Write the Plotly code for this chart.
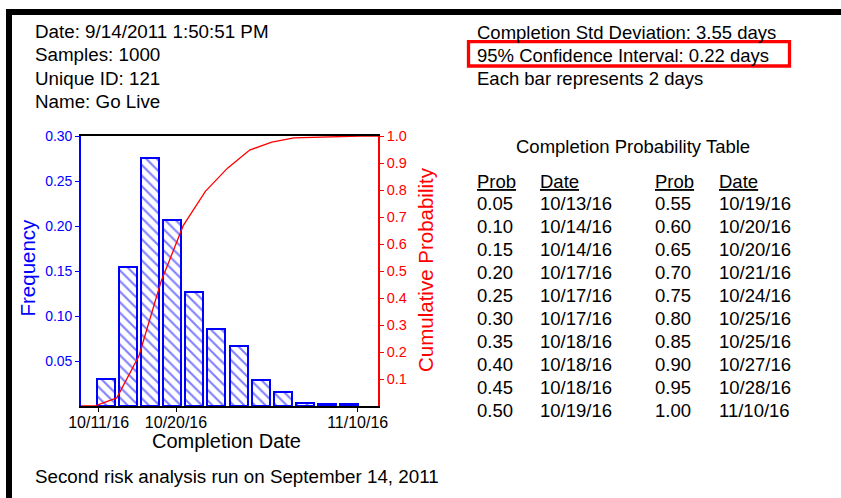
import plotly.graph_objects as go
import numpy as np

# ---- data -------------------------------------------------------------
# relative frequency of each 2-day completion bin
frequency = [0.030, 0.155, 0.276, 0.207, 0.127, 0.086, 0.067, 0.029, 0.016, 0.003, 0.002, 0.002]

date_tick_labels = ["10/11/16", "10/20/16", "11/10/16"]

header_lines = ["Date: 9/14/2011 1:50:51 PM", "Samples: 1000", "Unique ID: 121", "Name: Go Live"]
stats_lines = ["Completion Std Deviation: 3.55 days", "95% Confidence Interval: 0.22 days",
               "Each bar represents 2 days"]
footer_text = "Second risk analysis run on September 14, 2011"

table_title = "Completion Probability Table"
table_probs = ["0.05", "0.10", "0.15", "0.20", "0.25", "0.30", "0.35", "0.40", "0.45", "0.50",
               "0.55", "0.60", "0.65", "0.70", "0.75", "0.80", "0.85", "0.90", "0.95", "1.00"]
table_dates = ["10/13/16", "10/14/16", "10/14/16", "10/17/16", "10/17/16", "10/17/16", "10/18/16",
               "10/18/16", "10/18/16", "10/19/16", "10/19/16", "10/20/16", "10/20/16", "10/21/16",
               "10/24/16", "10/25/16", "10/25/16", "10/27/16", "10/28/16", "11/10/16"]

# ---- layout constants --------------------------------------------------
W, H = 841, 498
PL, PR, PT, PB = 81, 378, 136, 406          # plot area in pixels
BLUE, RED = "#0000ff", "#ff0000"
FONT = "Arial, Liberation Sans, sans-serif"

XMIN, XMAX = -1.115, 12.294                  # bin-index axis range
tick_pos = [-0.316, 3.174, 11.377]           # where the date labels sit on the bin axis


def px(x):
    return (x - PL) / (PR - PL)


def py(y):
    return (PB - y) / (PB - PT)


n = len(frequency)
bin_idx = np.arange(n)
cum = np.concatenate([[0.0], np.cumsum(frequency)])
line_x = np.concatenate([[XMIN], bin_idx - 0.5, [n - 0.5, XMAX]])
line_y = np.concatenate([[0.0], cum, [cum[-1]]])
line_y = np.minimum(line_y, 1.0)

fig = go.Figure()
fig.add_trace(go.Bar(
    x=bin_idx, y=frequency, width=0.81,
    marker=dict(color="white", line=dict(color=BLUE, width=2),
                pattern=dict(shape="\\", fgcolor=BLUE, bgcolor="white", size=7.5, solidity=0.28)),
    showlegend=False, hoverinfo="skip",
))
fig.add_trace(go.Scatter(
    x=line_x, y=line_y, yaxis="y2", mode="lines",
    line=dict(color=RED, width=1.3), showlegend=False, hoverinfo="skip",
))

annotations = []


def text(x, y, s, size=18.5, color="black", xanchor="left", **kw):
    annotations.append(dict(
        x=px(x), y=py(y), xref="paper", yref="paper", text=s, showarrow=False,
        xanchor=xanchor, yanchor="middle", font=dict(family=FONT, size=size, color=color), **kw))


for i, s in enumerate(header_lines):
    text(33, 31.5 + 23.3 * i, s, size=18.8)
for i, s in enumerate(stats_lines):
    text(475, 32.5 + 23 * i, s)
text(633, 146, table_title, xanchor="center")

col_x = [475, 538, 653, 717]
text(col_x[0], 181, "<u>Prob</u>")
text(col_x[1], 181, "<u>Date</u>")
text(col_x[2], 181, "<u>Prob</u>")
text(col_x[3], 181, "<u>Date</u>")
half = len(table_probs) // 2
for i in range(half):
    yy = 203.5 + 22.95 * i
    text(col_x[0], yy, table_probs[i])
    text(col_x[1], yy, table_dates[i])
    text(col_x[2], yy, table_probs[i + half])
    text(col_x[3], yy, table_dates[i + half])

text(33, 476, footer_text, size=18.8)

# axis titles
text(26.5, 268, "Frequency", size=20.5, color=BLUE, xanchor="center", textangle=-90)
text(425, 270, "Cumulative Probability", size=20.5, color=RED, xanchor="center", textangle=-90)
text(226, 441, "Completion Date", size=20, xanchor="center")

shapes = [
    # page frame (top and left edges)
    dict(type="rect", xref="paper", yref="paper", x0=px(6), x1=px(W + 5), y0=py(9), y1=py(15),
         fillcolor="black", line=dict(width=0), layer="above"),
    dict(type="rect", xref="paper", yref="paper", x0=px(6), x1=px(12), y0=py(9), y1=py(H + 5),
         fillcolor="black", line=dict(width=0), layer="above"),
    # highlight box around the confidence interval
    dict(type="rect", xref="paper", yref="paper", x0=px(468.5), x1=px(789.5), y0=py(41.7), y1=py(66),
         line=dict(color=RED, width=3.3), fillcolor="rgba(0,0,0,0)", layer="above"),
]

fig.update_layout(
    width=W, height=H, autosize=False,
    margin=dict(l=PL, r=W - PR, t=PT, b=H - PB, pad=0),
    paper_bgcolor="white", plot_bgcolor="white",
    font=dict(family=FONT),
    bargap=0,
    xaxis=dict(range=[XMIN, XMAX], showgrid=False, zeroline=False,
               showline=True, linecolor="black", linewidth=1.6, mirror=True,
               tickmode="array", tickvals=tick_pos, ticktext=date_tick_labels,
               ticks="outside", ticklen=4, tickcolor="black", tickwidth=1.3,
               ticklabelstandoff=-3,
               tickfont=dict(family=FONT, size=16, color="black")),
    yaxis=dict(range=[0, 0.30], showgrid=False, zeroline=False,
               showline=True, linecolor=BLUE, linewidth=1.6,
               tickmode="array", tickvals=[0.05, 0.10, 0.15, 0.20, 0.25, 0.30],
               ticktext=["0.05", "0.10", "0.15", "0.20", "0.25", "0.30"],
               ticks="outside", ticklen=4, tickcolor=BLUE, tickwidth=1.3,
               tickfont=dict(family=FONT, size=14, color=BLUE)),
    yaxis2=dict(range=[0, 1.0], overlaying="y", side="right", showgrid=False, zeroline=False,
                showline=True, linecolor=RED, linewidth=1.6,
                tickmode="array", tickvals=[0.1 * k for k in range(1, 11)],
                ticktext=[f"{0.1 * k:.1f}" for k in range(1, 11)],
                ticks="outside", ticklen=4, tickcolor=RED, tickwidth=1.3,
                tickfont=dict(family=FONT, size=14.5, color=RED)),
    annotations=annotations,
    shapes=shapes,
)

fig.write_html("out.html")
